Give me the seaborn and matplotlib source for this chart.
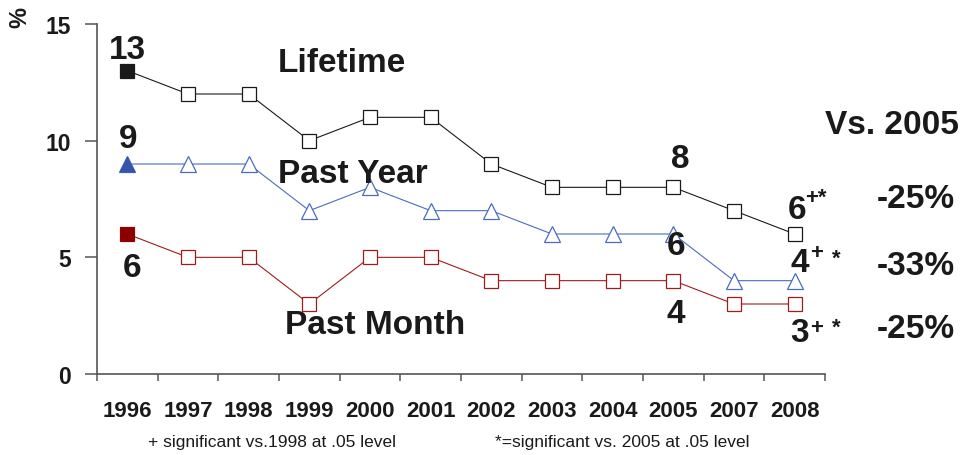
import seaborn as sns
import matplotlib.pyplot as plt
import pandas as pd

# Data

years = ["1996", "1997", "1998", "1999", "2000", "2001",
         "2002", "2003", "2004", "2005", "2007", "2008"]
lifetime = [13, 12, 12, 10, 11, 11, 9, 8, 8, 8, 7, 6]
past_year = [9, 9, 9, 7, 8, 7, 7, 6, 6, 6, 4, 4]
past_month = [6, 5, 5, 3, 5, 5, 4, 4, 4, 4, 3, 3]
change_vs_2005 = ["-25%", "-33%", "-25%"]

series = {
    "Lifetime": (lifetime, "s", "#1a1a1a", "#1a1a1a"),
    "Past Year": (past_year, "^", "#4a6cc0", "#3556a8"),
    "Past Month": (past_month, "s", "#a01c1c", "#8b0000"),
}

df = pd.concat([
    pd.DataFrame({"pos": range(len(years)), "year": years, "value": vals, "series": name})
    for name, (vals, _, _, _) in series.items()
])

sns.set_theme(style="white")
plt.rcParams["font.family"] = ["Liberation Sans", "DejaVu Sans"]

fig = plt.figure(figsize=(9.62, 4.56), dpi=100)
ax = fig.add_axes([97 / 962, 1 - 375 / 456, (825 - 97) / 962, (375 - 25) / 456])

for name, (vals, marker, color, fill) in series.items():
    sub = df[df["series"] == name]
    sns.lineplot(
        data=sub, x="pos", y="value",
        color=color, marker=marker, markersize=10 if marker == "s" else 11,
        markerfacecolor="white", markeredgecolor=color, markeredgewidth=0.9,
        linewidth=0.8, ax=ax, legend=False,
    )
    first = sub.iloc[[0]]
    sns.scatterplot(
        data=first, x="pos", y="value", marker=marker, color=fill,
        s=100 if marker == "s" else 120, edgecolor=fill, linewidth=0.5,
        ax=ax, legend=False, zorder=5,
    )

# axes styling
ax.set_xlim(-0.5, len(years) - 0.5)
ax.set_ylim(0, 15)
sns.despine(ax=ax)
for side in ["left", "bottom"]:
    ax.spines[side].set_color("#555555")
    ax.spines[side].set_linewidth(1.2)

ax.set_yticks([0, 5, 10, 15])
ax.set_yticklabels(["0", "5", "10", "15"], fontsize=16.5, fontweight="bold", color="#1a1a1a")
ax.tick_params(axis="y", left=True, length=9, width=1.1, color="#555555", pad=10)

ax.set_xticks(range(len(years)))
ax.set_xticklabels(years, fontsize=16, fontweight="bold", color="#1a1a1a")
ax.set_xticks([i - 0.5 for i in range(len(years) + 1)], minor=True)
ax.tick_params(axis="x", which="major", length=0, pad=19)
ax.tick_params(axis="x", which="minor", bottom=True, length=5, width=1.1, color="#555555")
ax.set_xlabel(None)
ax.set_ylabel(None)
ax.grid(False)

big = dict(fontsize=24, fontweight="bold", color="#1a1a1a")
sup = dict(fontsize=16, fontweight="bold", color="#1a1a1a")

# series labels
ax.text(2.48, 13.33, "Lifetime", ha="left", va="center", **big)
ax.text(2.48, 8.6, "Past Year", ha="left", va="center", **big)
ax.text(2.6, 2.1, "Past Month", ha="left", va="center", **big)

# value labels
ax.text(0, 13.9, str(lifetime[0]), ha="center", va="center", **big)
ax.text(0.02, 10.1, str(past_year[0]), ha="center", va="center", **big)
ax.text(0.07, 4.55, str(past_month[0]), ha="center", va="center", **big)
ax.text(9.11, 9.25, str(lifetime[9]), ha="center", va="center", **big)
ax.text(9.04, 5.5, str(past_year[9]), ha="center", va="center", **big)
ax.text(9.04, 2.58, str(past_month[9]), ha="center", va="center", **big)

ax.text(10.88, 7.05, str(lifetime[11]), ha="left", va="center", **big)
ax.text(11.18, 7.55, "+*", ha="left", va="center", **sup)
ax.text(10.93, 4.78, str(past_year[11]), ha="left", va="center", **big)
ax.text(11.26, 5.2, "+", ha="left", va="center", **sup)
ax.text(11.62, 4.98, "*", ha="left", va="center", **sup)
ax.text(10.93, 1.78, str(past_month[11]), ha="left", va="center", **big)
ax.text(11.26, 2.0, "+", ha="left", va="center", **sup)
ax.text(11.62, 2.02, "*", ha="left", va="center", **sup)

# comparison column
ax.text(11.5, 10.7, "Vs. 2005", ha="left", va="center", **big)
for y, label in zip([7.5, 4.63, 1.93], change_vs_2005):
    ax.text(13.0, y, label, ha="center", va="center", **big)

fig.text(20 / 962, 1 - 18 / 456, "%", rotation=90, ha="center", va="center",
         fontsize=17, fontweight="bold", color="#1a1a1a")
fig.text(148 / 962, 1 - 443 / 456, "+ significant vs.1998 at .05 level",
         ha="left", va="center", fontsize=12.5, color="#1a1a1a")
fig.text(495 / 962, 1 - 443 / 456, "*=significant vs. 2005 at .05 level",
         ha="left", va="center", fontsize=12.5, color="#1a1a1a")

fig.savefig("out.png", dpi=100)
